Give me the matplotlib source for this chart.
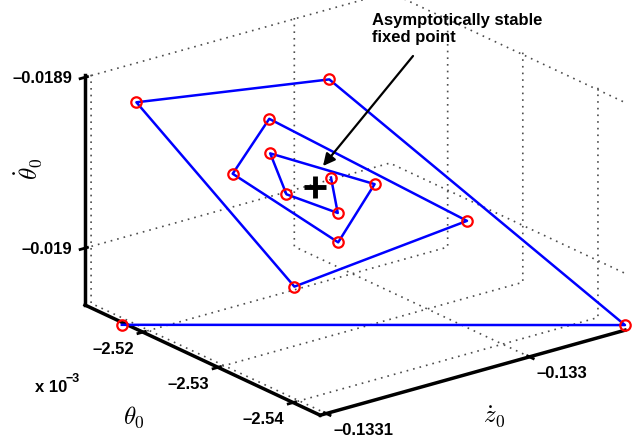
import numpy as np
import matplotlib.pyplot as plt
from mpl_toolkits.mplot3d import proj3d

plt.rcParams['font.family'] = ['Liberation Sans', 'DejaVu Sans']
plt.rcParams['font.weight'] = 'bold'
plt.rcParams['font.size'] = 12
plt.rcParams['mathtext.fontset'] = 'cm'
plt.rcParams['grid.linestyle'] = ':'
plt.rcParams['grid.color'] = '0.3'
plt.rcParams['grid.linewidth'] = 1.2

# iterates of the return map (theta0 in units of 1e-3)
theta0 = np.array([-2.5172, -2.5436, -2.5248, -2.5186, -2.5280, -2.5342, -2.5233,
                   -2.5233, -2.5295, -2.5311, -2.5264, -2.5264, -2.5289, -2.5280])
z0dot = np.array([-0.133103, -0.132953, -0.133029, -0.133101, -0.133058, -0.132996, -0.133053,
                  -0.133071, -0.133042, -0.133030, -0.133064, -0.133056, -0.133040, -0.133040])
theta0dot = np.array([-0.0190348, -0.0190303, -0.0189000, -0.0189023, -0.0190051, -0.0189744,
                      -0.0189182, -0.0189444, -0.0189814, -0.0189480, -0.0189284, -0.0189550,
                      -0.0189661, -0.0189472])
fixed_pt = (-2.5280, -0.133048, -0.0189503)  # theta0, z0dot, theta0dot

theta0_ticks = [-2.54, -2.53, -2.52]
z0dot_ticks = [-0.1331, -0.133]
theta0dot_ticks = [-0.019, -0.0189]

theta0_lim = (-2.5436, -2.5123)
z0dot_lim = (-0.133103, -0.132953)
theta0dot_lim = (-0.0190333, -0.0188988)


def lab(v):
    return ('%g' % v).replace('-', '\u2013')


W, H = 639, 443
fig = plt.figure(figsize=(W / 100, H / 100), dpi=100)
ax = fig.add_axes([0, 0, H / W, 1], projection='3d', proj_type='ortho')
ax.view_init(elev=21.2, azim=-127.65)
ax.set_box_aspect((1, 1, 0.64))

ax.plot(z0dot, theta0, theta0dot, color='#0000ff', lw=1.8)
ax.plot(z0dot, theta0, theta0dot, 'o', mfc='none', mec='#ff0000', ms=7.5, mew=1.6)
ax.plot([fixed_pt[1]], [fixed_pt[0]], [fixed_pt[2]], '+', color='k', ms=16, mew=3.5)

ax.set_xlim(*z0dot_lim)
ax.set_ylim(*theta0_lim)
ax.set_zlim(*theta0dot_lim)
ax.set_xticks(z0dot_ticks)
ax.set_xticklabels(['' for v in z0dot_ticks])
ax.set_yticks(theta0_ticks)
ax.set_yticklabels(['' for v in theta0_ticks])
ax.set_zticks(theta0dot_ticks)
ax.set_zticklabels(['' for v in theta0dot_ticks])

for axis in (ax.xaxis, ax.yaxis, ax.zaxis):
    axis.set_pane_color((1, 1, 1, 0))
    axis.line.set_linewidth(2.5)
    axis.line.set_color('k')
    axis._axinfo['tick']['linewidth'][True] = 2
    axis._axinfo['grid']['linestyle'] = (0, (1, 3))

# fit the box onto the figure (left and right bottom corners)
fig.canvas.draw()


def to_px(x, y, z):
    px, py, _ = proj3d.proj_transform(x, y, z, ax.get_proj())
    return np.array(ax.transData.transform((px, py)))


p1 = to_px(z0dot_lim[0], theta0_lim[1], theta0dot_lim[0])
p2 = to_px(z0dot_lim[1], theta0_lim[0], theta0dot_lim[0])
q1 = np.array([85, H - 305])
q2 = np.array([625, H - 330])
s = np.hypot(*(q2 - q1)) / np.hypot(*(p2 - p1))
bb = ax.get_position().transformed(fig.transFigure)
lb = q1 - s * (p1 - np.array([bb.x0, bb.y0]))
ax.set_position([lb[0] / W, lb[1] / H, s * bb.width / W, s * bb.height / H])
fig.canvas.draw()


def put(x, y, z, dx, dy, txt, **kw):
    px, py = to_px(x, y, z)
    fig.text((px + dx) / W, (py - dy) / H, txt, **kw)


# tick labels, MATLAB style
for v in theta0dot_ticks:
    put(z0dot_lim[0], theta0_lim[1], v, -13, 1, lab(v), ha='right', va='center')
for v in theta0_ticks:
    put(z0dot_lim[0], v, theta0dot_lim[0], -9, 17, lab(v), ha='right', va='center')
for v in z0dot_ticks:
    put(v, theta0_lim[0], theta0dot_lim[0], 7, 17, lab(v), ha='left', va='center')

# axis labels
t_mid = sum(theta0_lim) / 2
z_mid = sum(z0dot_lim) / 2
d_mid = sum(theta0dot_lim) / 2
put(z0dot_lim[0], t_mid, theta0dot_lim[0], -69, 57, r'$\theta_0$', ha='center', va='center', fontsize=18)
put(z_mid, theta0_lim[0], theta0dot_lim[0], 22, 44, r'$\dot{z}_0$', ha='center', va='center', fontsize=18)
put(z0dot_lim[0], theta0_lim[1], d_mid, -57, -22, r'$\dot{\theta}_0$', ha='center', va='center',
    fontsize=18, rotation=90)

fig.text(372 / W, 1 - 42 / H, 'Asymptotically stable\nfixed point', ha='left', va='baseline',
         fontsize=12, fontweight='bold', linespacing=1.15)
ax.annotate('', xy=(323, H - 166), xycoords='figure pixels',
            xytext=(413, H - 56), textcoords='figure pixels',
            arrowprops=dict(arrowstyle='-|>', color='k', lw=1.6, mutation_scale=18,
                            shrinkA=0, shrinkB=0))
fig.text(35 / W, 1 - 387 / H, 'x 10', fontsize=12, fontweight='bold', va='center')
fig.text(66 / W, 1 - 379 / H, '\u22123', fontsize=9, fontweight='bold', va='center')

fig.savefig('out.png', dpi=100)
